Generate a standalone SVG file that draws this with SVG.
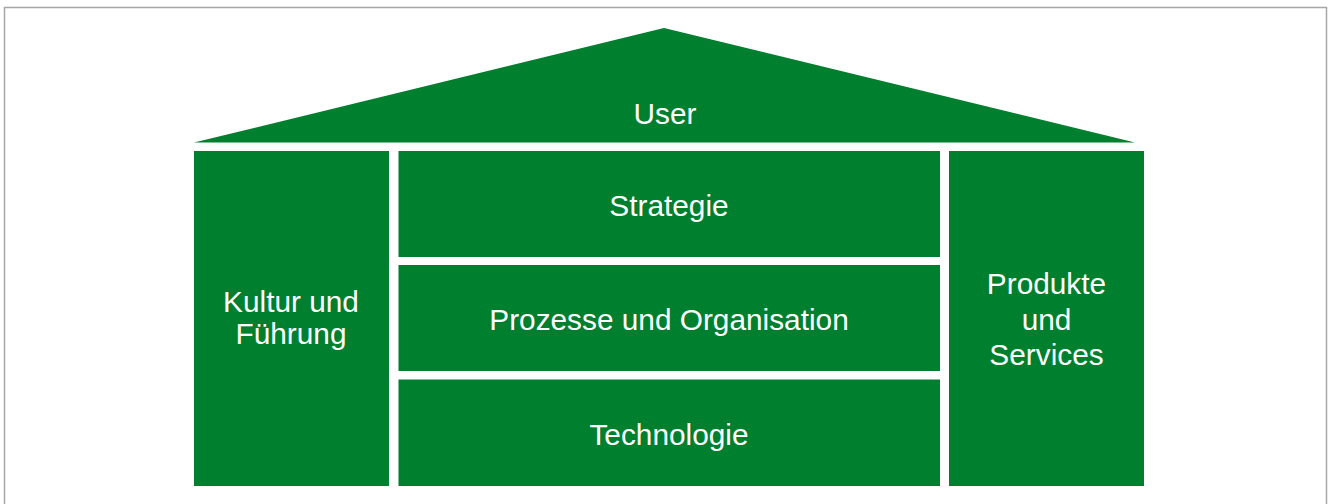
<svg xmlns="http://www.w3.org/2000/svg" width="1328" height="504" viewBox="0 0 1328 504">
  <style>
    .block { fill: #007f2f; }
    .label { fill: #ffffff; font-family: "Liberation Sans", Arial, sans-serif; font-size: 29.8px; text-anchor: middle; }
  </style>
  <rect x="0" y="0" width="1328" height="504" fill="#ffffff"/>
  <!-- outer frame -->
  <rect x="4.5" y="7.5" width="1322" height="510" fill="none" stroke="#a6a6a6" stroke-width="1.5"/>

  <g id="roof">
    <polygon class="block" points="194,142.5 664,28 1135,142.5"/>
    <text class="label" x="665" y="124">User</text>
  </g>

  <g id="kultur">
    <rect class="block" x="194" y="151" width="195" height="335"/>
    <text class="label" x="291" y="311.5">Kultur und</text>
    <text class="label" x="291" y="343.5">Führung</text>
  </g>

  <g id="strategie">
    <rect class="block" x="398.5" y="151" width="541.5" height="106"/>
    <text class="label" x="669" y="216">Strategie</text>
  </g>

  <g id="prozesse">
    <rect class="block" x="398.5" y="265" width="541.5" height="106"/>
    <text class="label" x="669" y="330">Prozesse und Organisation</text>
  </g>

  <g id="technologie">
    <rect class="block" x="398.5" y="379.5" width="541.5" height="106.5"/>
    <text class="label" x="669" y="444.5">Technologie</text>
  </g>

  <g id="produkte">
    <rect class="block" x="949" y="151" width="195" height="335"/>
    <text class="label" x="1046.5" y="293.5">Produkte</text>
    <text class="label" x="1046.5" y="330">und</text>
    <text class="label" x="1046.5" y="365">Services</text>
  </g>

  <g id="connectors"></g>
</svg>
